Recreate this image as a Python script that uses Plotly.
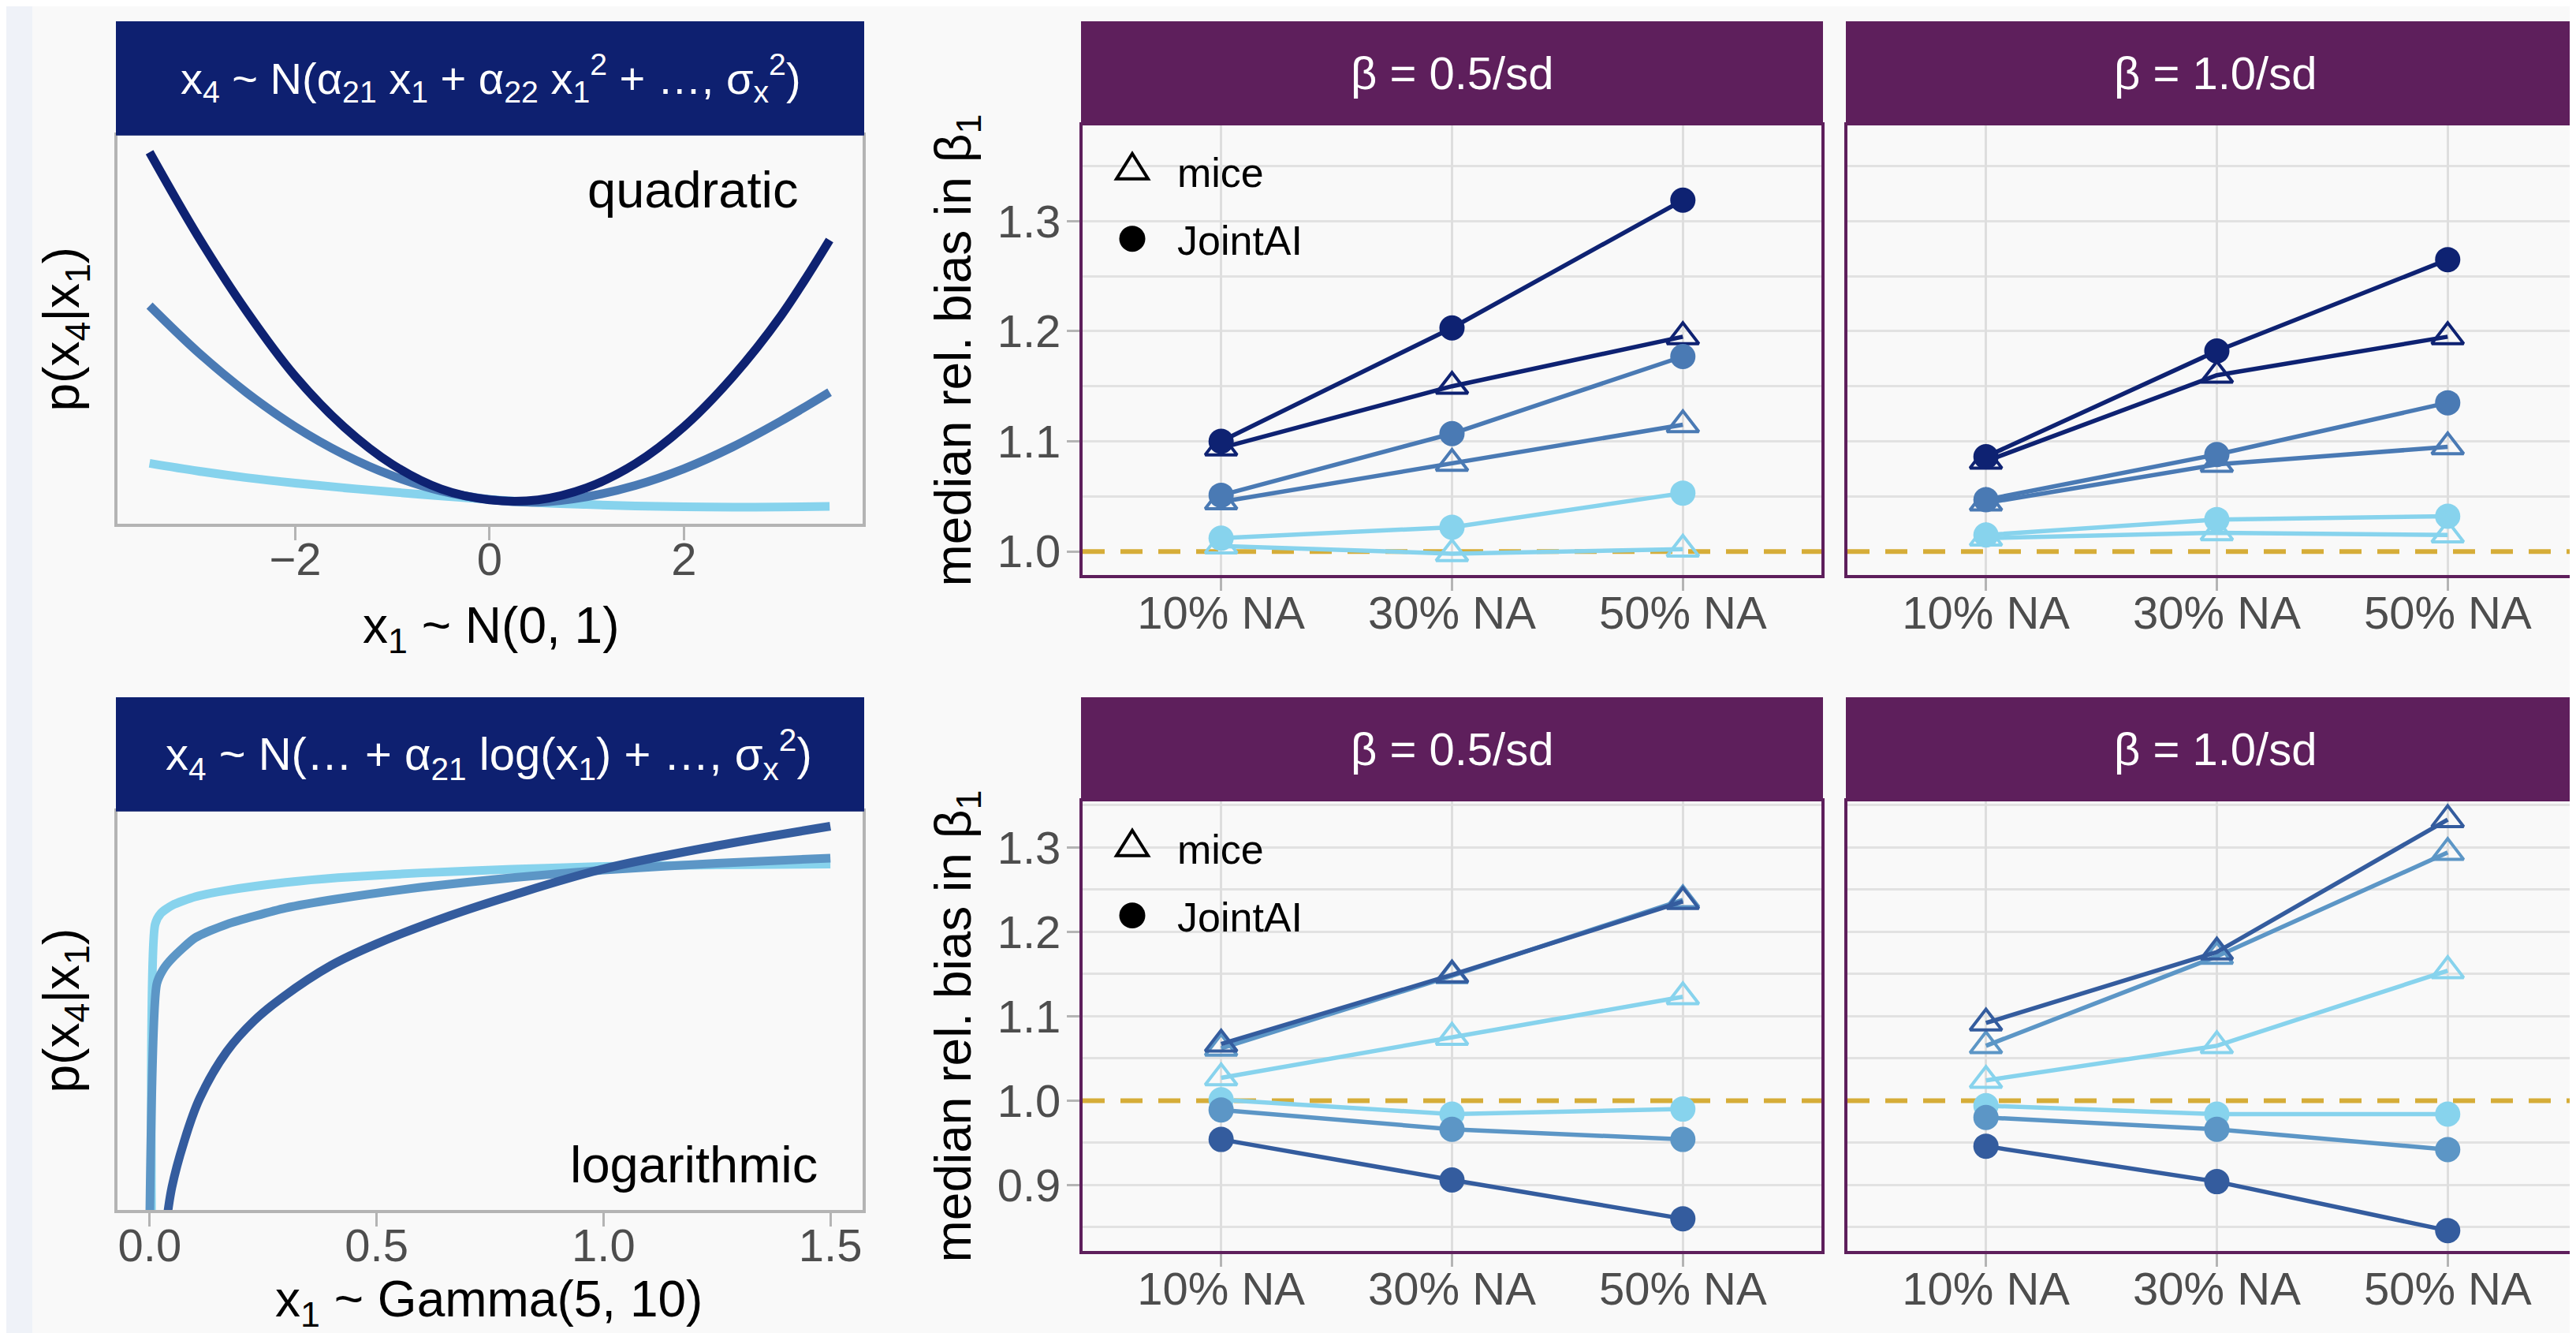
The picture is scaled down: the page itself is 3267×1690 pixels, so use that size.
import plotly.graph_objects as go

W, H = 3267, 1690
FONT = "Liberation Sans, Arial, sans-serif"

# ---------------- data: schematic curves (relative height 0-100) -------------
quad_x = [-3.5, -3.0, -2.5, -2.0, -1.5, -1.0, -0.5, 0.0, 0.5, 1.0, 1.5, 2.0, 2.5, 3.0, 3.5]
quad_strong = [95.7, 74.0, 54.7, 38.0, 25.0, 15.3, 9.0, 6.2, 6.2, 9.3, 15.5, 25.0, 37.8, 53.6, 73.1]
quad_medium = [56.2, 44.2, 33.8, 25.0, 17.9, 12.4, 8.5, 6.3, 5.6, 7.0, 9.9, 14.2, 19.8, 26.5, 33.9]
quad_weak = [15.6, 13.6, 11.9, 10.5, 9.3, 8.2, 7.2, 6.3, 5.5, 5.0, 4.6, 4.4, 4.3, 4.35, 4.5]

log_x_weak = [0.004, 0.012, 0.025, 0.05, 0.1, 0.17, 0.3, 0.415, 0.6, 0.8, 1.0, 1.25, 1.5]
log_weak = [-3, 71.7, 74.5, 76.5, 78.6, 80.2, 82.2, 83.4, 84.6, 85.5, 86.2, 86.6, 86.8]
log_x_medium = [0.0, 0.0155, 0.03, 0.049, 0.1, 0.17, 0.3, 0.415, 0.6, 0.8, 1.0, 1.25, 1.5]
log_medium = [-3, 56.7, 60.4, 63.1, 68.3, 71.7, 75.8, 78.1, 81.0, 83.4, 85.3, 87.0, 88.3]
log_x_strong = [0.037, 0.049, 0.075, 0.11, 0.17, 0.23, 0.293, 0.4, 0.5, 0.66, 0.8, 1.0, 1.25, 1.5]
log_strong = [-3, 5.8, 16.9, 28.0, 39.8, 47.5, 53.4, 61.4, 66.8, 73.8, 79.0, 85.6, 91.4, 96.3]

# ---------------- data: median relative bias ----------------
cats = ["10% NA", "30% NA", "50% NA"]

q05_mice_strong = [1.094, 1.150, 1.195]
q05_joint_strong = [1.100, 1.203, 1.319]
q05_mice_medium = [1.045, 1.080, 1.115]
q05_joint_medium = [1.051, 1.107, 1.177]
q05_mice_weak = [1.005, 0.998, 1.002]
q05_joint_weak = [1.012, 1.022, 1.053]

q10_mice_strong = [1.082, 1.160, 1.195]
q10_joint_strong = [1.086, 1.182, 1.265]
q10_mice_medium = [1.044, 1.079, 1.095]
q10_joint_medium = [1.047, 1.088, 1.135]
q10_mice_weak = [1.012, 1.017, 1.015]
q10_joint_weak = [1.015, 1.029, 1.032]

l05_mice_strong = [1.067, 1.149, 1.236]
l05_mice_medium = [1.062, 1.148, 1.238]
l05_mice_weak = [1.027, 1.075, 1.123]
l05_joint_strong = [0.954, 0.906, 0.860]
l05_joint_medium = [0.989, 0.966, 0.954]
l05_joint_weak = [1.001, 0.984, 0.990]

l10_mice_strong = [1.092, 1.176, 1.333]
l10_mice_medium = [1.065, 1.171, 1.294]
l10_mice_weak = [1.024, 1.065, 1.154]
l10_joint_strong = [0.946, 0.904, 0.846]
l10_joint_medium = [0.980, 0.966, 0.942]
l10_joint_weak = [0.994, 0.984, 0.984]

# ---------------- styles ----------------
TOP_COL = {"strong": "#0e2272", "medium": "#4a7ab4", "weak": "#87d3ed"}
BOT_COL = {"strong": "#345c9e", "medium": "#5c96c6", "weak": "#87d3ed"}
NAVY = "#0e2070"
PURPLE = "#5e1f5c"
GRAY_LINE = "#b4b4b4"
GRID = "#dedede"
TICK = "#4d4d4d"
BG = "#f9f9f9"


def fx(p):
    return p / W


def fy(p):
    return 1 - p / H


fig = go.Figure()

# ---------------- left panels ----------------
for name, ys in [("weak", quad_weak), ("medium", quad_medium), ("strong", quad_strong)]:
    fig.add_trace(go.Scatter(x=quad_x, y=ys, mode="lines",
                             line=dict(color=TOP_COL[name], width=11, shape="spline", smoothing=1.0),
                             xaxis="x", yaxis="y", showlegend=False, hoverinfo="skip"))

for name, xs, ys, sm in [("weak", log_x_weak, log_weak, 0.6), ("medium", log_x_medium, log_medium, 0.6),
                         ("strong", log_x_strong, log_strong, 1.0)]:
    fig.add_trace(go.Scatter(x=xs, y=ys, mode="lines",
                             line=dict(color=BOT_COL[name], width=11, shape="spline", smoothing=sm),
                             xaxis="x4", yaxis="y4", showlegend=False, hoverinfo="skip"))

# ---------------- right panels ----------------
def add_panel(ax, mice, joint, cols):
    for name in ["weak", "medium", "strong"]:
        fig.add_trace(go.Scatter(x=cats, y=mice[name], mode="lines+markers",
                                 line=dict(color=cols[name], width=5.5),
                                 marker=dict(symbol="triangle-up-open", size=35, color=cols[name],
                                             line=dict(width=4, color=cols[name])),
                                 xaxis="x" + ax, yaxis="y" + ax, showlegend=False, cliponaxis=False))
    for name in ["weak", "medium", "strong"]:
        fig.add_trace(go.Scatter(x=cats, y=joint[name], mode="lines+markers",
                                 line=dict(color=cols[name], width=5.5),
                                 marker=dict(symbol="circle", size=32, color=cols[name], line=dict(width=0)),
                                 xaxis="x" + ax, yaxis="y" + ax, showlegend=False, cliponaxis=False))


add_panel("2", {"weak": q05_mice_weak, "medium": q05_mice_medium, "strong": q05_mice_strong},
          {"weak": q05_joint_weak, "medium": q05_joint_medium, "strong": q05_joint_strong}, TOP_COL)
add_panel("3", {"weak": q10_mice_weak, "medium": q10_mice_medium, "strong": q10_mice_strong},
          {"weak": q10_joint_weak, "medium": q10_joint_medium, "strong": q10_joint_strong}, TOP_COL)
add_panel("5", {"weak": l05_mice_weak, "medium": l05_mice_medium, "strong": l05_mice_strong},
          {"weak": l05_joint_weak, "medium": l05_joint_medium, "strong": l05_joint_strong}, BOT_COL)
add_panel("6", {"weak": l10_mice_weak, "medium": l10_mice_medium, "strong": l10_mice_strong},
          {"weak": l10_joint_weak, "medium": l10_joint_medium, "strong": l10_joint_strong}, BOT_COL)

# ---------------- axes ----------------
panels = {
    1: ((141, 1086), (164, 657)),
    2: ((1365, 2302), (151, 722)),
    3: ((2335, 3267), (151, 722)),
    4: ((141, 1086), (1022, 1528)),
    5: ((1365, 2302), (1009, 1580)),
    6: ((2335, 3267), (1009, 1580)),
}


def dom(i):
    (x0, x1), (y0, y1) = panels[i]
    return [fx(x0), fx(x1)], [fy(y1), fy(y0)]


tickfont = dict(family=FONT, size=58, color=TICK)
layout = {}

for i, (xr, xt) in [(1, ([-3.83, 3.84], [-2, 0, 2])), (4, ([-0.071, 1.571], [0, 0.5, 1.0, 1.5]))]:
    xd, yd = dom(i)
    layout["xaxis%d" % i] = dict(domain=xd, range=xr, tickvals=xt, tickformat=".1f" if i == 4 else "d",
                                 ticks="outside", ticklen=17, tickwidth=3, tickcolor=GRAY_LINE,
                                 ticklabelstandoff=-26,
                                 showline=True, mirror=True, linecolor=GRAY_LINE, linewidth=3.5,
                                 showgrid=False, zeroline=False, tickfont=tickfont,
                                 anchor="y%d" % i, fixedrange=True)
    layout["yaxis%d" % i] = dict(domain=yd, range=[0, 100], showticklabels=False, ticks="",
                                 showline=True, mirror=True, linecolor=GRAY_LINE, linewidth=3.5,
                                 showgrid=False, zeroline=False, anchor="x%d" % i, fixedrange=True)

yr_top = [0.9785, 1.387]
yr_bot = [0.8217, 1.3548]
for i in [2, 3, 5, 6]:
    xd, yd = dom(i)
    right = i in (3, 6)
    layout["xaxis%d" % i] = dict(domain=xd, type="category", categoryorder="array", categoryarray=cats,
                                 range=[-0.6, -0.6 + (panels[i][0][1] - panels[i][0][0]) / 292.8],
                                 ticks="outside", ticklen=16, tickwidth=3, tickcolor=GRAY_LINE,
                                 ticklabelstandoff=-22,
                                 showgrid=True, gridcolor=GRID, gridwidth=3,
                                 showline=True, mirror=True, linecolor=PURPLE, linewidth=4,
                                 zeroline=False, tickfont=tickfont, anchor="y%d" % i, fixedrange=True)
    top = i in (2, 3)
    yr = yr_top if top else yr_bot
    tv = [1.0, 1.1, 1.2, 1.3] if top else [0.9, 1.0, 1.1, 1.2, 1.3]
    # grid lines at every 0.05 step except at 1.0 (where the dashed reference line sits)
    gv = [1.05, 1.1, 1.15, 1.2, 1.25, 1.3, 1.35] if top else \
        [0.85, 0.9, 0.95, 1.05, 1.1, 1.15, 1.2, 1.25, 1.3, 1.35]
    layout["yaxis%d" % i] = dict(domain=yd, range=yr, tickvals=tv, tickformat=".1f",
                                 ticks="" if right else "outside", ticklen=16, tickwidth=3,
                                 tickcolor=GRAY_LINE, showticklabels=not right,
                                 ticklabelstandoff=-4,
                                 showgrid=False,
                                 minor=dict(tickvals=gv, showgrid=True, gridcolor="#e2e2e2", gridwidth=3,
                                            ticks=""),
                                 showline=True, mirror=not right, linecolor=PURPLE, linewidth=4,
                                 zeroline=False, tickfont=tickfont, anchor="x%d" % i, fixedrange=True)

# ---------------- shapes ----------------
shapes = []
shapes.append(dict(type="rect", xref="paper", yref="paper", x0=0, x1=fx(33), y0=0, y1=1,
                   fillcolor="#eff2f8", line=dict(width=0), layer="below"))
strip_boxes = [
    ((139, 1088), (19, 164), NAVY),
    ((139, 1088), (877, 1022), NAVY),
    ((1363, 2304), (19, 151), PURPLE),
    ((2333, 3267), (19, 151), PURPLE),
    ((1363, 2304), (877, 1009), PURPLE),
    ((2333, 3267), (877, 1009), PURPLE),
]
for (x0, x1), (y0, y1), c in strip_boxes:
    shapes.append(dict(type="rect", xref="paper", yref="paper", x0=fx(x0), x1=fx(x1),
                       y0=fy(y1), y1=fy(y0), fillcolor=c, line=dict(width=0), layer="above"))

for i in [2, 3, 5, 6]:
    shapes.append(dict(type="line", xref="x%d domain" % i, yref="y%d" % i, x0=0, x1=1, y0=1, y1=1,
                       line=dict(color="#d6ad38", width=6, dash="28px,20px"), layer="below"))

# legend keys (drawn as shapes)
for off in [0, 859]:
    tri = "M %f,%f L %f,%f L %f,%f Z" % (fx(1428), fy(187 + off), fx(1448), fy(219 + off),
                                          fx(1408), fy(219 + off))
    shapes.append(dict(type="path", xref="paper", yref="paper", path=tri,
                       line=dict(color="black", width=4), fillcolor="rgba(0,0,0,0)", layer="above"))
    shapes.append(dict(type="circle", xref="paper", yref="paper", x0=fx(1411.5), x1=fx(1444.5),
                       y0=fy(311.5 + off), y1=fy(278.5 + off), fillcolor="black", line=dict(width=0),
                       layer="above"))

# ---------------- annotations ----------------
anns = []


def ann(text, px, py, size, color="black", xanchor="center", angle=0):
    anns.append(dict(text=text, x=fx(px), y=fy(py), xref="paper", yref="paper", showarrow=False,
                     xanchor=xanchor, yanchor="middle", textangle=angle,
                     font=dict(family=FONT, size=size, color=color)))


ann("x<sub>4</sub> ~ N(α<sub>21</sub> x<sub>1</sub> + α<sub>22</sub> x<sub>1</sub><sup>2</sup> + …, "
    "σ<sub>x</sub><sup>2</sup>)", 614, 91, 56, "white")
ann("x<sub>4</sub> ~ N(… + α<sub>21</sub> log(x<sub>1</sub>) + …, σ<sub>x</sub><sup>2</sup>)",
    612, 950, 58, "white")
for py in [85, 943]:
    ann("β = 0.5/sd", 1833, py, 58, "white")
    ann("β = 1.0/sd", 2801, py, 58, "white")

ann("quadratic", 1006, 233, 65, xanchor="right")
ann("logarithmic", 1031, 1470, 65, xanchor="right")

ann("p(x<sub>4</sub>|x<sub>1</sub>)", 74, 410, 64, angle=-90)
ann("p(x<sub>4</sub>|x<sub>1</sub>)", 74, 1275, 64, angle=-90)
ann("median rel. bias in β<sub>1</sub>", 1205, 437, 64, angle=-90)
ann("median rel. bias in β<sub>1</sub>", 1205, 1295, 64, angle=-90)
ann("x<sub>1</sub> ~ N(0, 1)", 614, 790, 64)
ann("x<sub>1</sub> ~ Gamma(5, 10)", 612, 1645, 64)

for off in [0, 859]:
    ann("mice", 1483, 211 + off, 52, xanchor="left")
    ann("JointAI", 1483, 297 + off, 52, xanchor="left")

fig.update_layout(width=W, height=H, margin=dict(l=0, r=0, t=0, b=0),
                  paper_bgcolor=BG, plot_bgcolor=BG, showlegend=False,
                  font=dict(family=FONT), shapes=shapes, annotations=anns, **layout)

fig.write_html("out.html")
